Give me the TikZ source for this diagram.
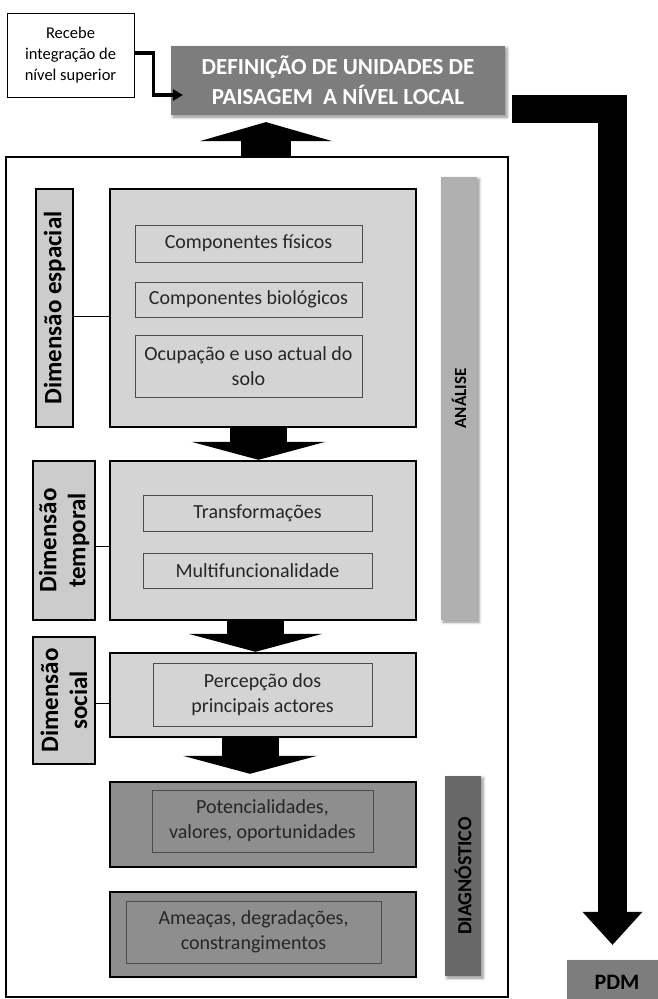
\documentclass[tikz,border=0pt]{standalone}
\usepackage{fontspec}
\setmainfont{Carlito}
\definecolor{titlegray}{RGB}{125,125,125}
\definecolor{boxgray}{RGB}{212,212,212}
\definecolor{labelgray}{RGB}{204,204,204}
\definecolor{analisegray}{RGB}{176,176,176}
\definecolor{diaggray}{RGB}{142,142,142}
\definecolor{diagbar}{RGB}{104,104,104}
\definecolor{textgray}{RGB}{38,38,38}
\usetikzlibrary{arrows.meta,positioning,calc,shadows.blur}

\begin{document}
\begin{tikzpicture}[x=1pt,y=-1pt,
          every node/.style={align=center, inner sep=0pt},
          softshadow/.style={blur shadow={shadow xshift=2pt, shadow yshift=-2pt,
              shadow blur radius=3pt, shadow opacity=45}},
          bigbox/.style={draw=black, line width=2.4pt, minimum width=306pt},
          subbox/.style={draw=black!70, line width=0.9pt, text=textgray,
              font=\fontsize{20}{25}\selectfont},
          dimbox/.style={draw=black, line width=1.6pt, fill=labelgray, rotate=90,
              font=\fontsize{25}{29}\selectfont\bfseries},
          phasebar/.style={rotate=90, minimum height=36pt, softshadow},
          blockarrow/.style={line width=57pt, -{Triangle[width=134pt,length=18pt,line width=0pt]}}]
          \useasboundingbox (0,0) rectangle (657,999);
          % frame and header
          \node[draw, line width=1.8pt, minimum width=502pt, minimum height=840pt]
            (frame) at (257,577) {};
          \node[draw, line width=0.8pt, minimum width=127pt, minimum height=84pt,
                font=\fontsize{16.5}{21}\selectfont] (recebe) at (70.5,55)
            {Recebe\\integração de\\nível superior};
          \node[fill=titlegray, minimum width=334pt, minimum height=69pt, softshadow,
                text=white, font=\fontsize{23}{30}\selectfont\bfseries] (titulo) at (338,80.5)
            {DEFINIÇÃO DE UNIDADES DE\\PAISAGEM\ \ A NÍVEL LOCAL};
          \node[fill=titlegray, minimum width=100pt, minimum height=44pt, softshadow,
                font=\fontsize{22}{25}\selectfont\bfseries] (pdm) at (617,982) {PDM};
          % dimension labels
          \foreach \nm/\x/\y/\h/\w/\lbl in {
            lsp/54.5/308/238/37/Dimensão espacial,
            ltp/64/540.5/159/62/Dimensão\\temporal,
            lso/64/700.5/127/62/Dimensão\\social
          }{
            \node[dimbox, minimum width=\h pt, minimum height=\w pt] (\nm) at (\x,\y) {\lbl};
          }
          % main boxes
          \foreach \nm/\y/\h/\col in {sp/308/238/boxgray, tp/540.5/159/boxgray,
              so/695/84/boxgray, pot/824.5/85/diaggray, ame/934.5/85/diaggray}{
            \node[bigbox, fill=\col, minimum height=\h pt] (\nm) at (263,\y) {};
          }
          \foreach \nm/\x/\y/\w/\h/\lbl in {
            fis/248.5/243.5/227/37/Componentes físicos,
            bio/248.5/299.5/227/35/Componentes biológicos,
            ocu/248.5/366/227/62/Ocupação e uso actual do\\solo,
            tra/257.5/513/229/36/Transformações,
            mul/257.5/570.5/229/35/Multifuncionalidade,
            per/262.5/694.5/219/63/Percepção dos\\principais actores
          }{
            \node[subbox, fill=boxgray, minimum width=\w pt, minimum height=\h pt] (\nm) at (\x,\y) {\lbl};
          }
          \node[subbox, fill=diaggray, minimum width=221pt, minimum height=62pt] (pov)
            at (262.5,821) {Potencialidades,\\valores, oportunidades};
          \node[subbox, fill=diaggray, minimum width=255pt, minimum height=62pt] (amc)
            at (253.5,932) {Ameaças, degradações,\\constrangimentos};
          % phase bars
          \node[phasebar, fill=analisegray, minimum width=443pt,
                font=\fontsize{17}{20}\selectfont\bfseries] (analise) at (459,398.5) {ANÁLISE};
          \node[phasebar, fill=diagbar, minimum width=200pt,
                font=\fontsize{20}{24}\selectfont\bfseries] (diag) at (463,876) {DIAGNÓSTICO};
          % connectors
          \foreach \a/\b/\d in {lsp/sp/-8, ltp/tp/-5.5, lso/so/-3}
            \draw[line width=0.8pt] ([yshift=\d pt]\a.south) -- ([yshift=\d pt]\a.south -| \b.west);
          \foreach \a/\b/\s in {sp/tp/-4.5, tp/so/-7.5}
            \draw[blockarrow] ([xshift=\s pt]\a.south) -- ([xshift=\s pt]\a.south |- \b.north);
          \coordinate (potin) at ([xshift=-13pt,yshift=7pt]pot.north);
          \draw[blockarrow] (so.south -| potin) -- (potin);
          \coordinate (titin) at ([xshift=9pt,yshift=34pt]frame.north);
          \draw[line width=50pt, -{Triangle[width=132pt,length=19pt,line width=0pt]}]
            ([xshift=9pt]frame.north) -- (titin);
          \draw[line width=3.5pt, line join=miter, -{Triangle[width=12pt,length=10pt,line width=0pt]}]
            ([yshift=2pt]recebe.east) -- ++(19,0) |- ([xshift=12pt,yshift=-14.5pt]titulo.west);
          \coordinate (pdmin) at ([xshift=-4.5pt,yshift=15pt]pdm.north);
          \draw[line width=28.5pt, line join=miter, -{Triangle[width=60pt,length=33pt,line width=0pt]}]
            ([xshift=7pt,yshift=-28.5pt]titulo.east) -| (pdmin);
        \end{tikzpicture}
\end{document}
